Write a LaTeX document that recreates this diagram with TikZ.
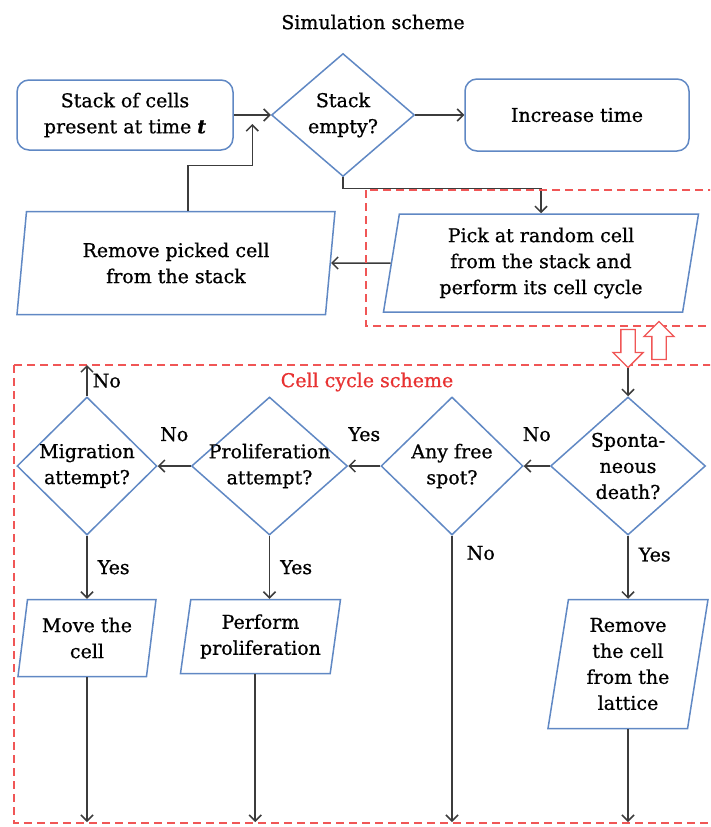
\documentclass[tikz,border=0pt]{standalone}
\usepackage{fontspec}
\usepackage{tikz}
\usetikzlibrary{
  arrows.meta,
  positioning,
  calc,
  shapes.geometric,
  shapes.arrows
}
\newfontfamily\flowfamily{DejaVu Serif}[FakeBold=0.8]
\definecolor{BoxBlue}{RGB}{96,136,196}
\definecolor{FrameRed}{RGB}{240,86,86}
\definecolor{LabelRed}{RGB}{232,50,50}
\definecolor{ArrowGray}{RGB}{60,60,60}
\newcommand{\flowfont}{\flowfamily\fontsize{19}{26}\selectfont}
\tikzset{
  procbox/.style={draw=BoxBlue,line width=1.5pt,rounded corners=12pt,align=center,font=\flowfont},
  decision/.style={diamond,draw=BoxBlue,line width=1.5pt,inner sep=-12pt,align=center,font=\flowfont},
  iobox/.style={trapezium,trapezium left angle=78,trapezium right angle=102,trapezium stretches body,draw=BoxBlue,line width=1.5pt,align=center,font=\flowfont,inner sep=2pt},
  arr/.style={-{Straight Barb[length=6pt,width=12pt]},line width=1.5pt,draw=ArrowGray},
  dashframe/.style={draw=FrameRed,dash pattern=on 8pt off 5pt,line width=1.3pt},
  blockarr/.style={single arrow,draw=FrameRed,fill=white,line width=1.3pt,inner sep=6.5pt,single arrow head extend=8pt,minimum height=38pt},
  lbl/.style={font=\flowfont,inner sep=0pt}
}

\begin{document}
\begin{tikzpicture}[x=1pt,y=-1pt]
\clip (0,0) rectangle (710,827);
\fill[white] (0,0) rectangle (710,827);
% simulation scheme
\node[font=\flowfamily\fontsize{19}{22}\selectfont] (title) at (373,22) {Simulation scheme};
\node[procbox,minimum width=216pt,minimum height=70pt] (stack) at (125,115) {Stack of cells\\present at time \textit{\textbf{t}}};
\node[decision,minimum width=143pt,minimum height=123pt,right=37pt of stack] (empty) {Stack\\empty?};
\node[procbox,minimum width=224pt,minimum height=72pt,right=49pt of empty] (inc) {Increase time};
\node[iobox,minimum width=315pt,minimum height=98pt] (pick) at (541,263) {Pick at random cell\\from the stack and\\perform its cell cycle};
\node[iobox,minimum width=318pt,minimum height=103pt] (rmpick) at (176,263) {Remove picked cell\\from the stack};
\coordinate (join) at ($(stack.east)!0.5!(empty.west)$);
\draw[arr] (stack) -- (empty);
\draw[arr] (empty) -- (inc);
\draw[arr] (empty.south) -- ++(0,11) -| (pick.north);
\draw[arr] (pick) -- (rmpick);
\draw[arr] ([xshift=12pt]rmpick.north) -- ++(0,-45) -| ([yshift=-9pt]join);
% frames
\draw[dashframe] (366,190) rectangle (730,326);
\draw[dashframe] (14,365) rectangle (730,823);
\coordinate (cyctop) at (0,365);
\coordinate (cycbot) at (0,822);
\node[blockarr,rotate=-90] (down) at (628,345) {};
\node[blockarr,rotate=90] (up) at (659,344) {};
% cell cycle scheme
\node[font=\flowfont,text=LabelRed] (cyclbl) at (367,382) {Cell cycle scheme};
\node[decision,minimum width=155pt,minimum height=138pt] (death) at (628,466) {Sponta-\\neous\\death?};
\node[decision,minimum width=142pt,minimum height=138pt,left=26pt of death] (free) {Any free\\spot?};
\node[decision,minimum width=156pt,minimum height=138pt,left=32pt of free] (prolif) {Proliferation\\attempt?};
\node[decision,minimum width=140pt,minimum height=138pt,left=33pt of prolif] (mig) {Migration\\attempt?};
\node[iobox,minimum width=138pt,minimum height=77pt,below=63pt of mig] (move) {Move the\\cell};
\node[iobox,minimum width=160pt,minimum height=74pt,below=63pt of prolif,xshift=-9pt] (perf) {Perform\\proliferation};
\node[iobox,minimum width=160pt,minimum height=129pt,below=63pt of death] (rmcell) {Remove\\the cell\\from the\\lattice};
\draw[arr] (down.tip) -- (death.north);
\draw[arr] (death) -- node[lbl,above=24pt]{No} (free);
\draw[arr] (free) -- node[lbl,above=24pt]{Yes} (prolif);
\draw[arr] (prolif) -- node[lbl,above=24pt]{No} (mig);
\draw[arr] (mig.north) -- node[lbl,right=5pt]{No} (mig.north |- cyctop);
\draw[arr] (mig.south) -- node[lbl,right=10pt]{Yes} (mig.south |- move.north);
\draw[arr] (prolif.south) -- node[lbl,right=10pt]{Yes} (prolif.south |- perf.north);
\draw[arr] (death.south) -- node[lbl,right=10pt,pos=0.3]{Yes} (rmcell.north);
\draw[arr] (free.south) -- node[lbl,right=14pt,pos=0.06]{No} (free.south |- cycbot);
\draw[arr] (move.south) -- (move.south |- cycbot);
\draw[arr] (perf.bottom side) -- (perf.bottom side |- cycbot);
\draw[arr] (rmcell.south) -- (rmcell.south |- cycbot);
\end{tikzpicture}
\end{document}
